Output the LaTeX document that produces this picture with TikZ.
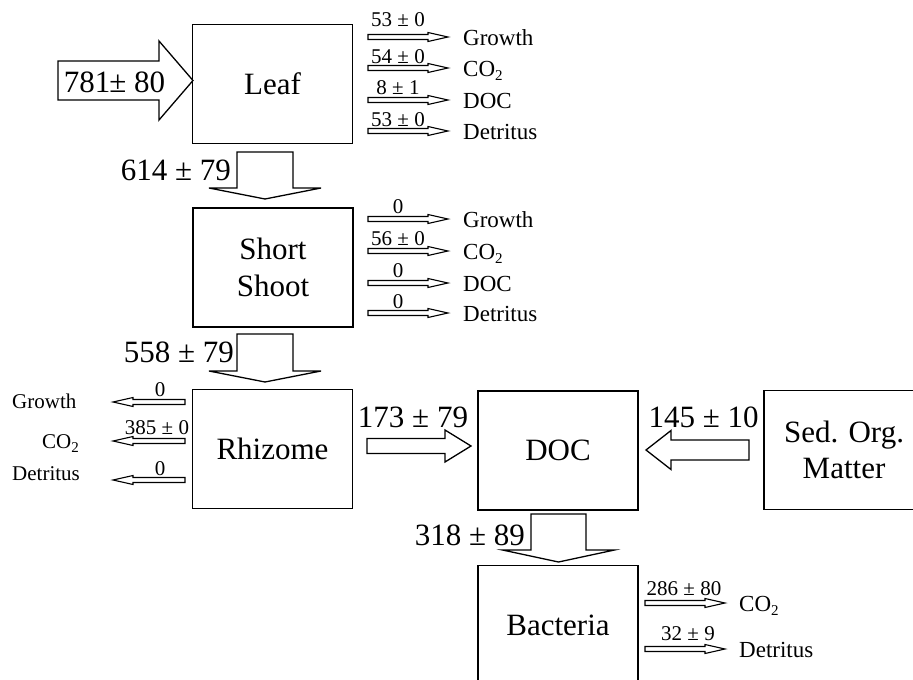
\documentclass[tikz,border=0pt]{standalone}
\usepackage{fontspec}
\setmainfont{Liberation Serif}
\newcommand{\hblk}[7]{% style, xtail, xbase, xtip, y, bodyhalf, headhalf
  \draw[#1] ({#2},{#5-#6}) -- ({#3},{#5-#6}) -- ({#3},{#5-#7}) -- ({#4},{#5})
    -- ({#3},{#5+#7}) -- ({#3},{#5+#6}) -- ({#2},{#5+#6}) -- cycle;}
\newcommand{\vblk}[7]{% style, x, ytail, ybase, ytip, bodyhalf, headhalf
  \draw[#1] ({#2-#6},{#3}) -- ({#2-#6},{#4}) -- ({#2-#7},{#4}) -- ({#2},{#5})
    -- ({#2+#7},{#4}) -- ({#2+#6},{#4}) -- ({#2+#6},{#3}) -- cycle;}
\newcommand{\subtwo}{\raisebox{-4pt}{\fontsize{15}{15}\selectfont 2}}
\begin{document}
\begin{tikzpicture}[x=1pt,y=-1pt,
  box/.style={draw,line width=1.2pt,minimum width=160pt,minimum height=119pt,
    inner sep=0pt,align=center,font=\fontsize{31}{37}\selectfont},
  big/.style={inner sep=0pt,font=\fontsize{31}{36}\selectfont},
  side/.style={inner sep=0pt,anchor=base west,font=\fontsize{23}{26}\selectfont},
  lside/.style={inner sep=0pt,anchor=base west,font=\fontsize{21}{24}\selectfont},
  lab/.style={inner sep=0pt,anchor=base,font=\fontsize{21}{23}\selectfont},
  blkarrow/.style={line width=1.3pt,line join=miter},
  smallarrow/.style={line width=1.1pt,line join=miter}]
\useasboundingbox (0,0) rectangle (913,680);
\begin{scope}
\clip (0,0) rectangle (913,680);
% boxes
\node[box] (leaf) at (272.5,84) {Leaf};
\node[box] (short) at (273,267.5) {Short\\Shoot};
\node[box] (rhiz) at (272.5,449) {Rhizome};
\node[box] (doc) at (558,450.5) {DOC};
\node[box,font=\fontsize{31}{36}\selectfont] (sed) at (844,450) {Sed. Org.\\Matter};
\node[box] (bact) at (558,625) {Bacteria};
\end{scope}

% big block arrows
\hblk{blkarrow}{58}{159}{193}{80.5}{19.5}{39.5}
\node[big,anchor=base] (lin) at (114.5,92) {781\kern-1pt± 80};
\vblk{blkarrow}{265}{152}{188}{199}{28}{56}
\node[big,anchor=base east] (l614) at (231,180) {614 ± 79};
\vblk{blkarrow}{265}{334}{371}{382}{28}{56}
\node[big,anchor=base east] (l558) at (234,362) {558 ± 79};
\vblk{blkarrow}{558.5}{514}{550}{562}{27.5}{56}
\node[big,anchor=base east] (l318) at (525,545) {318 ± 89};
\hblk{blkarrow}{367}{445}{471}{446}{7.5}{16}
\node[big,anchor=base] (l173) at (413,427) {173 ± 79};
\hblk{blkarrow}{749}{671}{646}{450}{10}{19.5}
\node[big,anchor=base] (l145) at (703.5,427) {145 ± 10};

% Leaf outputs
\foreach \y in {37,68,100,131}{\hblk{smallarrow}{368}{428}{448}{\y}{2.5}{4.5}}
\node[lab] (a1) at (398,27) {53 ± 0};
\node[lab] (a2) at (398,63) {54 ± 0};
\node[lab] (a3) at (398,94) {8 ± 1};
\node[lab] (a4) at (398,126) {53 ± 0};
\node[side] (t1) at (463,45) {Growth};
\node[side] (t2) at (463,76) {CO\subtwo};
\node[side] (t3) at (463,108) {DOC};
\node[side] (t4) at (463,139) {Detritus};

% Short shoot outputs
\foreach \y in {219,251,283,313}{\hblk{smallarrow}{368}{428}{448}{\y}{2.5}{4.5}}
\node[lab] (b1) at (398,213) {0};
\node[lab] (b2) at (398,245) {56 ± 0};
\node[lab] (b3) at (398,277) {0};
\node[lab] (b4) at (398,308) {0};
\node[side] (s1) at (463,227) {Growth};
\node[side] (s2) at (463,259) {CO\subtwo};
\node[side] (s3) at (463,291) {DOC};
\node[side] (s4) at (463,321) {Detritus};

% Rhizome outputs
\foreach \y in {402,441,480}{\hblk{smallarrow}{185}{133}{113}{\y}{2.5}{4.5}}
\node[lab] (c1) at (160,396) {0};
\node[lab] (c2) at (157,434) {385 ± 0};
\node[lab] (c3) at (160,475) {0};
\node[lside] (r1) at (12,408) {Growth};
\node[lside] (r2) at (42,448) {CO\subtwo};
\node[lside] (r3) at (12,480) {Detritus};

% Bacteria outputs
\foreach \y in {603,649}{\hblk{smallarrow}{645}{705}{725}{\y}{2.5}{4.5}}
\node[lab] (d1) at (684,595) {286 ± 80};
\node[lab] (d2) at (688,640) {32 ± 9};
\node[side] (u1) at (739,611) {CO\subtwo};
\node[side] (u2) at (739,657) {Detritus};
\end{tikzpicture}
\end{document}
